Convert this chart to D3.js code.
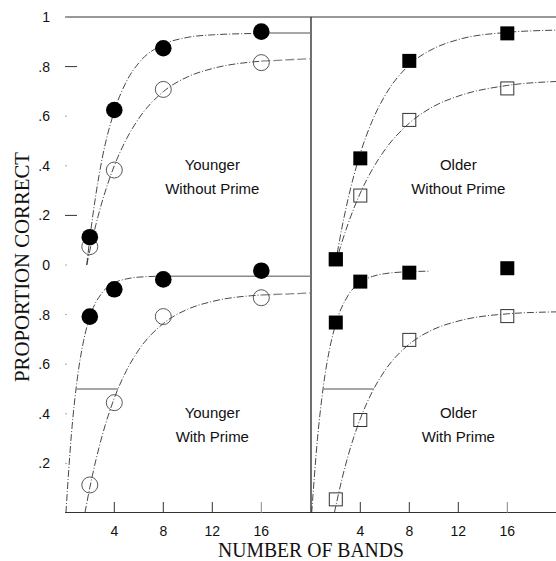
<!DOCTYPE html>
<html lang="en">
<head>
<meta charset="UTF-8">
<title>Proportion correct by number of bands</title>
<script src="https://d3js.org/d3.v7.min.js"></script>
<style>
    body { margin: 0; background: #fff; }
    .tick-label { font-family: 'Liberation Sans', Arial, sans-serif; font-size: 14px; fill: #111; }
    .panel-label { font-family: 'Liberation Sans', Arial, sans-serif; font-size: 15px; fill: #111; }
    .axis-title { font-family: 'Liberation Serif', 'Times New Roman', serif; font-size: 22px; fill: #111; }
</style>
</head>
<body>
<script>
    const width = 556;
    const height = 561;

    // measured at 2, 4, 8 and 16 bands
    const bands = [2, 4, 8, 16];
    const xTickValues = [4, 8, 12, 16];
    const yTickValues = [0.2, 0.4, 0.6, 0.8, 1];
    const yTickText = [".2", ".4", ".6", ".8", "1"];

    const youngerNoPrimeFilled = [0.112, 0.625, 0.874, 0.941];
    const youngerNoPrimeOpen   = [0.074, 0.383, 0.708, 0.816];
    const olderNoPrimeFilled   = [0.023, 0.430, 0.823, 0.934];
    const olderNoPrimeOpen     = [0.023, 0.280, 0.585, 0.712];
    const youngerPrimeFilled   = [0.792, 0.902, 0.942, 0.977];
    const youngerPrimeOpen     = [0.113, 0.445, 0.792, 0.868];
    const olderPrimeFilled     = [0.768, 0.933, 0.969, 0.987];
    const olderPrimeOpen       = [0.055, 0.375, 0.698, 0.794];

    // fitted curves as [bands, proportion]
    const youngerNoPrimeFilledFit = [[1.75,0],[2,0.106],[2.5,0.285],[3,0.427],[4,0.62],[5,0.741],[6,0.815],[8,0.889],[10,0.918],[12,0.928],[16,0.934]];
    const youngerNoPrimeOpenFit   = [[1.75,0],[2,0.058],[2.5,0.163],[3,0.254],[4,0.4],[5,0.509],[6,0.591],[8,0.699],[10,0.759],[12,0.792],[16,0.822]];
    const olderNoPrimeFilledFit   = [[1.95,0],[2.5,0.15],[3,0.266],[4,0.45],[5,0.584],[6,0.682],[8,0.807],[10,0.873],[12,0.909],[16,0.938],[20,0.947]];
    const olderNoPrimeOpenFit     = [[1.95,0],[2.5,0.092],[3,0.166],[4,0.29],[5,0.387],[6,0.464],[8,0.572],[10,0.64],[12,0.681],[16,0.724],[20,0.74]];
    const youngerPrimeFilledFit   = [[0.05,0],[0.5,0.318],[1,0.549],[1.5,0.696],[2,0.79],[3,0.888],[4,0.928],[5,0.944],[6,0.951],[8,0.955]];
    const youngerPrimeOpenFit     = [[1.6,0],[2,0.102],[2.5,0.214],[3,0.31],[4,0.463],[5,0.575],[6,0.658],[8,0.764],[10,0.822],[12,0.853],[16,0.879]];
    const olderPrimeFilledFit     = [[0.03,0],[0.5,0.297],[1,0.516],[1.5,0.663],[2,0.763],[3,0.877],[4,0.93],[5,0.954],[6,0.965],[8,0.973],[9.7,0.975]];
    const olderPrimeOpenFit       = [[1.88,0],[2.5,0.136],[3,0.23],[4,0.38],[5,0.491],[6,0.574],[8,0.681],[10,0.741],[12,0.774],[16,0.803],[20,0.811]];

    // asymptote tails past the last point, and the 50% lines
    const youngerNoPrimeFilledTail = [[16,0.935],[20,0.935]];
    const youngerNoPrimeOpenTail   = [[16,0.822],[20,0.832]];
    const youngerPrimeFilledTail   = [[8,0.955],[20,0.955]];
    const youngerPrimeOpenTail     = [[16,0.879],[20,0.887]];
    const youngerPrimeHalf = [[0.87,0.5],[4.3,0.5]];
    const olderPrimeHalf   = [[0.96,0.5],[5.1,0.5]];

    const svg = d3.select("body").append("svg")
        .attr("width", width).attr("height", height);

    const xLeft  = d3.scaleLinear().domain([0, 20]).range([65.3, 310.3]);
    const xRight = d3.scaleLinear().domain([0, 20]).range([311.3, 556.3]);
    const yTop    = d3.scaleLinear().domain([0, 1]).range([265, 17]);
    const yBottom = d3.scaleLinear().domain([0, 1]).range([513, 265]);

    const panels = [
        {x: xLeft,  y: yTop,    shape: "circle", filled: youngerNoPrimeFilled, open: youngerNoPrimeOpen,
         fits: [youngerNoPrimeFilledFit, youngerNoPrimeOpenFit], solid: [youngerNoPrimeFilledTail], dashed: [youngerNoPrimeOpenTail],
         label: ["Younger", "Without Prime"]},
        {x: xRight, y: yTop,    shape: "square", filled: olderNoPrimeFilled, open: olderNoPrimeOpen,
         fits: [olderNoPrimeFilledFit, olderNoPrimeOpenFit], solid: [], dashed: [],
         label: ["Older", "Without Prime"]},
        {x: xLeft,  y: yBottom, shape: "circle", filled: youngerPrimeFilled, open: youngerPrimeOpen,
         fits: [youngerPrimeFilledFit, youngerPrimeOpenFit], solid: [youngerPrimeFilledTail, youngerPrimeHalf], dashed: [youngerPrimeOpenTail],
         label: ["Younger", "With Prime"]},
        {x: xRight, y: yBottom, shape: "square", filled: olderPrimeFilled, open: olderPrimeOpen,
         fits: [olderPrimeFilledFit, olderPrimeOpenFit], solid: [olderPrimeHalf], dashed: [],
         label: ["Older", "With Prime"]}
    ];

    // frame: top rule, bottom axis, divider
    svg.append("line").attr("x1", 65).attr("x2", width).attr("y1", yTop(1)).attr("y2", yTop(1))
        .attr("stroke", "#333").attr("stroke-width", 1.1);
    svg.append("line").attr("x1", 65).attr("x2", width).attr("y1", yBottom(0) - 0.5).attr("y2", yBottom(0) - 0.5)
        .attr("stroke", "#333").attr("stroke-width", 1.1);
    svg.append("line").attr("x1", 311).attr("x2", 311).attr("y1", yTop(1)).attr("y2", yBottom(0))
        .attr("stroke", "#222").attr("stroke-width", 1.3);

    // y ticks and labels
    [yTop, yBottom].forEach((y, p) => {
        yTickValues.forEach((v, i) => {
            if (p === 1 && v === 1) return;
            const long = p === 0 && (v === 0.8 || v === 0.2);
            svg.append("line").attr("x1", 65).attr("x2", 65 + (long ? 12 : 2))
                .attr("y1", y(v)).attr("y2", y(v))
                .attr("stroke", long ? "#333" : "#aaa").attr("stroke-width", 1);
            svg.append("text").attr("class", "tick-label")
                .attr("x", 50).attr("y", y(v)).attr("dy", "0.36em")
                .attr("text-anchor", "end").text(yTickText[i]);
        });
    });
    svg.append("line").attr("x1", 65).attr("x2", 67).attr("y1", yTop(0)).attr("y2", yTop(0))
        .attr("stroke", "#aaa");
    svg.append("text").attr("class", "tick-label")
        .attr("x", 50).attr("y", yTop(0)).attr("dy", "0.36em")
        .attr("text-anchor", "end").text("0");

    // x ticks and labels
    [xLeft, xRight].forEach(x => {
        xTickValues.forEach(v => {
            svg.append("line").attr("x1", x(v)).attr("x2", x(v))
                .attr("y1", yBottom(0) - 11).attr("y2", yBottom(0))
                .attr("stroke", v === 16 ? "#888" : "#333").attr("stroke-width", 1);
            svg.append("text").attr("class", "tick-label")
                .attr("x", x(v)).attr("y", 536)
                .attr("text-anchor", "middle").text(v);
        });
    });

    // axis titles (the scan's lettering is tall and narrow)
    svg.append("text").attr("class", "axis-title")
        .attr("x", 311).attr("y", 557).attr("text-anchor", "middle")
        .style("font-size", "20px")
        .attr("textLength", 186).attr("lengthAdjust", "spacingAndGlyphs")
        .text("NUMBER OF BANDS");
    svg.append("text").attr("class", "axis-title")
        .attr("transform", "translate(29," + 267 + ") rotate(-90)")
        .attr("text-anchor", "middle")
        .attr("textLength", 230).attr("lengthAdjust", "spacingAndGlyphs")
        .text("PROPORTION CORRECT");

    panels.forEach(p => {
        const line = d3.line().x(d => p.x(d[0])).y(d => p.y(d[1])).curve(d3.curveMonotoneX);
        const straight = d3.line().x(d => p.x(d[0])).y(d => p.y(d[1]));

        p.fits.forEach(f => {
            svg.append("path").datum(f).attr("d", line)
                .attr("fill", "none").attr("stroke", "#333").attr("stroke-width", 0.9)
                .attr("stroke-dasharray", "7,2,1,2");
        });
        p.solid.forEach(s => {
            svg.append("path").datum(s).attr("d", straight)
                .attr("fill", "none").attr("stroke", "#8a8a8a").attr("stroke-width", 1.5);
        });
        p.dashed.forEach(s => {
            svg.append("path").datum(s).attr("d", straight)
                .attr("fill", "none").attr("stroke", "#8a8a8a").attr("stroke-width", 1.3)
                .attr("stroke-dasharray", "9,3");
        });

        const openPts = bands.map((b, i) => [b, p.open[i]]);
        const filledPts = bands.map((b, i) => [b, p.filled[i]]);

        if (p.shape === "circle") {
            svg.selectAll(null).data(openPts).enter().append("circle")
                .attr("cx", d => p.x(d[0])).attr("cy", d => p.y(d[1])).attr("r", 8)
                .attr("fill", "none").attr("stroke", "#444").attr("stroke-width", 0.9);
            svg.selectAll(null).data(filledPts).enter().append("circle")
                .attr("cx", d => p.x(d[0])).attr("cy", d => p.y(d[1])).attr("r", 8.3)
                .attr("fill", "#000");
        } else {
            svg.selectAll(null).data(openPts).enter().append("rect")
                .attr("x", d => p.x(d[0]) - 6.5).attr("y", d => p.y(d[1]) - 6.5)
                .attr("width", 13).attr("height", 13)
                .attr("fill", "none").attr("stroke", "#333").attr("stroke-width", 1);
            svg.selectAll(null).data(filledPts).enter().append("rect")
                .attr("x", d => p.x(d[0]) - 7).attr("y", d => p.y(d[1]) - 7)
                .attr("width", 14).attr("height", 14)
                .attr("fill", "#000");
        }

        svg.append("text").attr("class", "panel-label")
            .attr("x", p.x(12)).attr("y", p.y(0.383)).attr("text-anchor", "middle")
            .text(p.label[0]);
        svg.append("text").attr("class", "panel-label")
            .attr("x", p.x(12)).attr("y", p.y(0.285)).attr("text-anchor", "middle")
            .text(p.label[1]);
    });
</script>
</body>
</html>
